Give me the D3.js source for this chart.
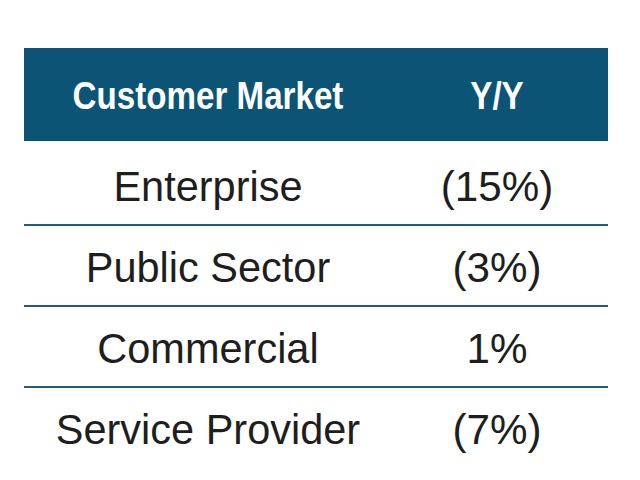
<!DOCTYPE html>
<html>
<head>
<meta charset="utf-8">
<script src="https://cdn.jsdelivr.net/npm/d3@7"></script>
<style>
  body { margin: 0; background: #fff; }
  text { font-family: "Liberation Sans", Arial, sans-serif; }
</style>
</head>
<body>
<svg id="chart" width="640" height="480"></svg>
<script>
var columns = ['Customer Market', 'Y/Y'];
var markets = ['Enterprise', 'Public Sector', 'Commercial', 'Service Provider'];
var growth = ['(15%)', '(3%)', '1%', '(7%)'];

var svg = d3.select('#chart');

var left = 24, right = 608;
var headTop = 48, headBottom = 141;

var x = d3.scalePoint()
  .domain(columns)
  .range([208, 497]);

var y = d3.scaleBand()
  .domain(markets)
  .range([144, 468])
  .padding(0);

// squeeze text horizontally like the original slide
function condense(sel, factor) {
  sel.each(function() {
    var w = this.getComputedTextLength();
    d3.select(this)
      .attr('textLength', w * factor)
      .attr('lengthAdjust', 'spacingAndGlyphs');
  });
}

svg.append('rect')
  .attr('x', left)
  .attr('y', headTop)
  .attr('width', right - left)
  .attr('height', headBottom - headTop)
  .attr('fill', '#0b5475');

svg.selectAll('text.head')
  .data(columns)
  .enter().append('text')
  .attr('class', 'head')
  .attr('x', function(d) { return x(d); })
  .attr('y', 109)
  .attr('text-anchor', 'middle')
  .attr('font-size', 39)
  .attr('font-weight', 'bold')
  .attr('fill', '#fff')
  .text(function(d) { return d; })
  .call(condense, 0.85);

var rows = svg.selectAll('g.row')
  .data(markets)
  .enter().append('g')
  .attr('class', 'row')
  .attr('transform', function(d) { return 'translate(0,' + y(d) + ')'; });

rows.append('text')
  .attr('x', x(columns[0]))
  .attr('y', 57)
  .attr('text-anchor', 'middle')
  .attr('font-size', 43)
  .attr('fill', '#1e1e1e')
  .text(function(d) { return d; })
  .call(condense, 0.965);

rows.append('text')
  .attr('x', x(columns[1]))
  .attr('y', 57)
  .attr('text-anchor', 'middle')
  .attr('font-size', 43)
  .attr('fill', '#1e1e1e')
  .text(function(d, i) { return growth[i]; })
  .call(condense, 0.98);

rows.filter(function(d, i) { return i < markets.length - 1; })
  .append('line')
  .attr('x1', left)
  .attr('x2', right)
  .attr('y1', y.bandwidth())
  .attr('y2', y.bandwidth())
  .attr('stroke', '#1f5d79')
  .attr('stroke-width', 2);
</script>
</body>
</html>
